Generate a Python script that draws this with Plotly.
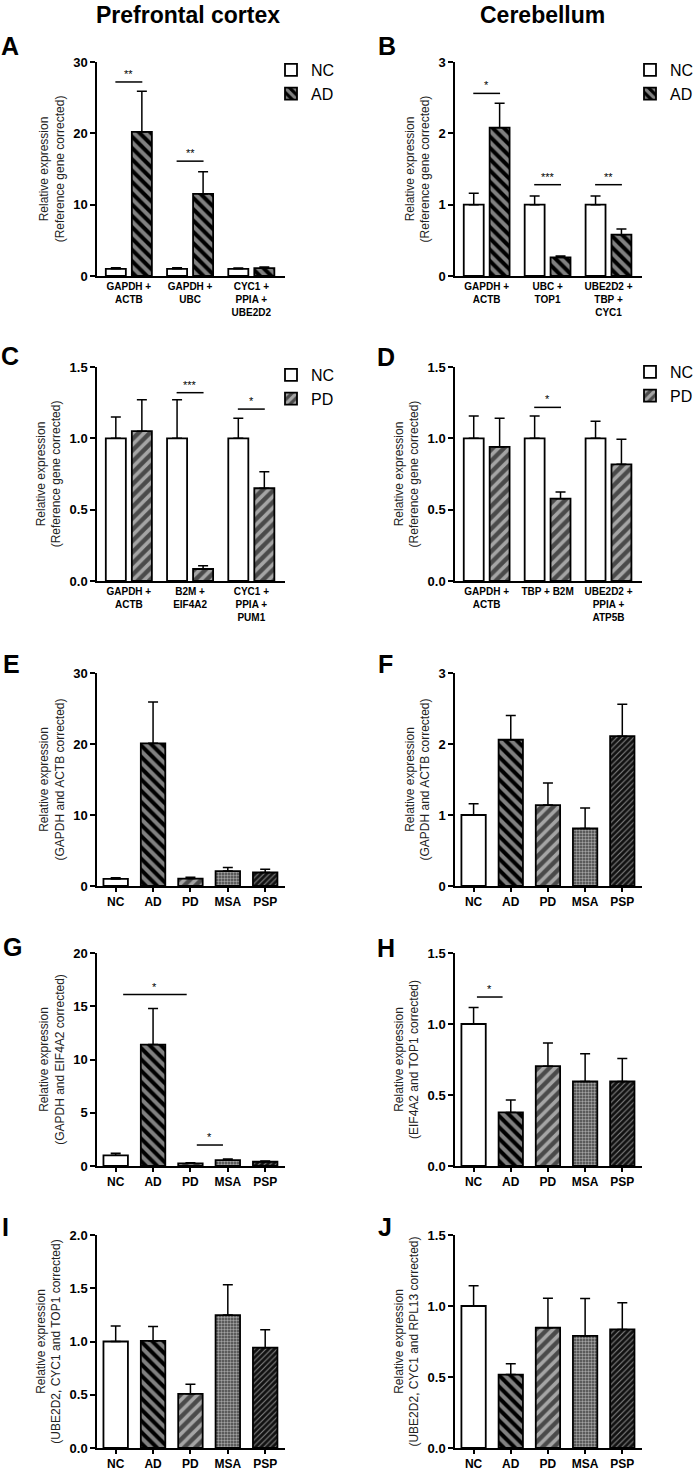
import plotly.graph_objects as go

W, H = 700, 1473
FONT = "Arial, Liberation Sans, sans-serif"

# ---------------- data ----------------
# A - prefrontal cortex, NC vs AD
groups_A = ["GAPDH +<br>ACTB", "GAPDH +<br>UBC", "CYC1 +<br>PPIA +<br>UBE2D2"]
nc_A = [1.0, 1.0, 1.0]
nc_A_err = [0.15, 0.15, 0.12]
ad_A = [20.2, 11.5, 1.1]
ad_A_err = [5.7, 3.1, 0.15]

# B - cerebellum, NC vs AD
groups_B = ["GAPDH +<br>ACTB", "UBC +<br>TOP1", "UBE2D2 +<br>TBP +<br>CYC1"]
nc_B = [1.0, 1.0, 1.0]
nc_B_err = [0.16, 0.12, 0.12]
ad_B = [2.08, 0.26, 0.58]
ad_B_err = [0.34, 0.02, 0.08]

# C - prefrontal cortex, NC vs PD
groups_C = ["GAPDH +<br>ACTB", "B2M +<br>EIF4A2", "CYC1 +<br>PPIA +<br>PUM1"]
nc_C = [1.0, 1.0, 1.0]
nc_C_err = [0.15, 0.27, 0.14]
pd_C = [1.05, 0.084, 0.65]
pd_C_err = [0.22, 0.023, 0.115]

# D - cerebellum, NC vs PD
groups_D = ["GAPDH +<br>ACTB", "TBP + B2M", "UBE2D2 +<br>PPIA +<br>ATP5B"]
nc_D = [1.0, 1.0, 1.0]
nc_D_err = [0.157, 0.157, 0.12]
pd_D = [0.94, 0.577, 0.818]
pd_D_err = [0.2, 0.047, 0.175]

# E-J - all five groups
conditions = ["NC", "AD", "PD", "MSA", "PSP"]
E_vals = [1.0, 20.1, 1.05, 2.1, 1.9]
E_err = [0.15, 5.8, 0.2, 0.5, 0.45]
F_vals = [1.0, 2.06, 1.14, 0.81, 2.11]
F_err = [0.157, 0.34, 0.31, 0.29, 0.45]
G_vals = [1.0, 11.4, 0.25, 0.56, 0.4]
G_err = [0.2, 3.4, 0.06, 0.1, 0.07]
H_vals = [1.0, 0.377, 0.703, 0.595, 0.595]
H_err = [0.116, 0.087, 0.164, 0.195, 0.162]
I_vals = [1.0, 1.005, 0.509, 1.248, 0.942]
I_err = [0.145, 0.137, 0.09, 0.284, 0.169]
J_vals = [1.0, 0.517, 0.847, 0.789, 0.835]
J_err = [0.142, 0.077, 0.208, 0.264, 0.188]

# significance bars: (from, to, height, stars)
sig_A = [(-0.22, 0.22, 27.2, "**"), (0.78, 1.22, 16.1, "**")]
sig_B = [(-0.22, 0.22, 2.56, "*"), (0.78, 1.22, 1.28, "***"), (1.78, 2.22, 1.28, "**")]
sig_C = [(0.78, 1.22, 1.32, "***"), (1.78, 2.22, 1.205, "*")]
sig_D = [(0.78, 1.22, 1.217, "*")]
sig_G = [(0.2, 1.9, 16.1, "*"), (2.17, 2.87, 1.97, "*")]
sig_H = [(0.09, 0.78, 1.19, "*")]

# ---------------- styles ----------------
# bar fill + overlaid hatch (fillmode overlay)
STYLE = {
    "NC": dict(color="white", shape="", fg="white", size=8, sol=0.3),
    "AD": dict(color="black", shape="\\", fg="white", size=8, sol=0.5),
    "PD": dict(color="#4a4a4a", shape="/", fg="white", size=8, sol=0.45),
    "MSA": dict(color="#444444", shape=".", fg="white", size=3, sol=0.5),
    "PSP": dict(color="#111111", shape="/", fg="#8a8a8a", size=4, sol=0.25),
}


def marker_for(names):
    st = [STYLE[n] for n in names]
    return dict(
        color=[s["color"] for s in st],
        line=dict(color="black", width=1.8),
        pattern=dict(
            shape=[s["shape"] for s in st],
            fgcolor=[s["fg"] for s in st],
            size=[s["size"] for s in st],
            solidity=[s["sol"] for s in st],
            fillmode="overlay",
        ),
    )


def err(arr):
    return dict(type="data", array=arr, arrayminus=[0] * len(arr), symmetric=False,
                color="black", thickness=1.5, width=5)


# ---------------- panel layout (pixels) ----------------
cols_px = [(97, 285), (455, 642)]
rows_px = [(62, 276), (367, 581), (673, 886), (953, 1166), (1235, 1448)]

ytitle_ref = "Relative expression<br>(Reference gene corrected)"
panels = [
    dict(letter="A", grouped=True, cats=groups_A, a=("NC", nc_A, nc_A_err), b=("AD", ad_A, ad_A_err),
         ymax=30, dtick=10, fmt="d", title=ytitle_ref, sig=sig_A),
    dict(letter="B", grouped=True, cats=groups_B, a=("NC", nc_B, nc_B_err), b=("AD", ad_B, ad_B_err),
         ymax=3, dtick=1, fmt="d", title=ytitle_ref, sig=sig_B),
    dict(letter="C", grouped=True, cats=groups_C, a=("NC", nc_C, nc_C_err), b=("PD", pd_C, pd_C_err),
         ymax=1.5, dtick=0.5, fmt=".1f", title=ytitle_ref, sig=sig_C),
    dict(letter="D", grouped=True, cats=groups_D, a=("NC", nc_D, nc_D_err), b=("PD", pd_D, pd_D_err),
         ymax=1.5, dtick=0.5, fmt=".1f", title=ytitle_ref, sig=sig_D),
    dict(letter="E", grouped=False, vals=E_vals, err=E_err, ymax=30, dtick=10, fmt="d",
         title="Relative expression<br>(GAPDH and ACTB corrected)", sig=[]),
    dict(letter="F", grouped=False, vals=F_vals, err=F_err, ymax=3, dtick=1, fmt="d",
         title="Relative expression<br>(GAPDH and ACTB corrected)", sig=[]),
    dict(letter="G", grouped=False, vals=G_vals, err=G_err, ymax=20, dtick=5, fmt="d",
         title="Relative expression<br>(GAPDH and EIF4A2 corrected)", sig=sig_G),
    dict(letter="H", grouped=False, vals=H_vals, err=H_err, ymax=1.5, dtick=0.5, fmt=".1f",
         title="Relative expression<br>(EIF4A2 and TOP1 corrected)", sig=sig_H),
    dict(letter="I", grouped=False, vals=I_vals, err=I_err, ymax=2.0, dtick=0.5, fmt=".1f",
         title="Relative expression<br>(UBE2D2, CYC1 and TOP1 corrected)", sig=[]),
    dict(letter="J", grouped=False, vals=J_vals, err=J_err, ymax=1.5, dtick=0.5, fmt=".1f",
         title="Relative expression<br>(UBE2D2, CYC1 and RPL13 corrected)", sig=[]),
]

# letter positions (pixel centres)
letter_px = {"A": (10, 46), "B": (387, 46), "C": (10, 356), "D": (386, 357),
             "E": (11, 664), "F": (385, 664), "G": (12, 947), "H": (386, 948),
             "I": (5, 1227), "J": (385, 1227)}
legend_px = {"A": (271, 53), "B": (630, 53), "C": (271, 358), "D": (630, 355)}

fig = go.Figure()
layout = dict(width=W, height=H, margin=dict(l=0, r=0, t=0, b=0, autoexpand=False),
              paper_bgcolor="white", plot_bgcolor="white",
              barmode="group", bargap=0.15, bargroupgap=0.23,
              font=dict(family=FONT, color="black"))
shapes, annotations = [], []

for k, p in enumerate(panels):
    n = k + 1
    xa = "x" if n == 1 else f"x{n}"
    ya = "y" if n == 1 else f"y{n}"
    col, row = k % 2, k // 2
    x0, x1 = cols_px[col]
    y0, y1 = rows_px[row]

    if p["grouped"]:
        leg = "legend" if n == 1 else f"legend{n}"
        for name, vals, e in (p["a"], p["b"]):
            fig.add_trace(go.Bar(x=p["cats"], y=vals, name=name, error_y=err(e),
                                 marker=marker_for([name] * len(vals)),
                                 xaxis=xa, yaxis=ya, legend=leg, showlegend=True))
        lx, ly = legend_px[p["letter"]]
        layout[leg] = dict(x=lx / W, y=1 - ly / H, xanchor="left", yanchor="top",
                           bgcolor="rgba(0,0,0,0)", font=dict(size=16, family=FONT),
                           tracegroupgap=0, traceorder="normal")
        xr = [-0.52, 2.55]
        xfont = dict(size=10, family=FONT, weight="bold")
        xticks = ""
    else:
        fig.add_trace(go.Bar(x=conditions, y=p["vals"], error_y=err(p["err"]),
                             marker=marker_for(conditions), xaxis=xa, yaxis=ya,
                             showlegend=False))
        xr = [-0.5, 4.53]
        xfont = dict(size=12, family=FONT, weight="bold")
        xticks = "outside"

    layout["xaxis" if n == 1 else f"xaxis{n}"] = dict(
        domain=[x0 / W, x1 / W], anchor=ya, type="category", range=xr,
        showline=True, linecolor="black", linewidth=1.5, showgrid=False,
        ticks=xticks, ticklen=4, tickwidth=1.5, tickcolor="black",
        tickangle=0, tickfont=xfont, fixedrange=True)
    layout["yaxis" if n == 1 else f"yaxis{n}"] = dict(
        domain=[1 - y1 / H, 1 - y0 / H], anchor=xa, range=[0, p["ymax"]],
        dtick=p["dtick"], tick0=0, tickformat=p["fmt"],
        showline=True, linecolor="black", linewidth=1.5, showgrid=False, zeroline=False,
        ticks="outside", ticklen=5, tickwidth=1.5, tickcolor="black",
        tickfont=dict(size=13, family=FONT, weight="bold"),
        title=dict(text=p["title"], font=dict(size=12, family=FONT, color="#222"), standoff=6),
        fixedrange=True)

    # significance bars
    for sx0, sx1, sy, stars in p["sig"]:
        shapes.append(dict(type="line", xref=xa, yref=ya, x0=sx0, x1=sx1, y0=sy, y1=sy,
                           line=dict(color="black", width=1.5)))
        annotations.append(dict(xref=xa, yref=ya, x=(sx0 + sx1) / 2, y=sy, text=stars,
                                showarrow=False, yanchor="bottom", yshift=0,
                                font=dict(size=11, family=FONT, color="black")))

    # panel letter
    px, py = letter_px[p["letter"]]
    annotations.append(dict(xref="paper", yref="paper", x=px / W, y=1 - py / H,
                            text=f"<b>{p['letter']}</b>", showarrow=False,
                            xanchor="center", yanchor="middle",
                            font=dict(size=25, family=FONT, color="black")))

# column titles
for text, cx in (("Prefrontal cortex", 188), ("Cerebellum", 542)):
    annotations.append(dict(xref="paper", yref="paper", x=cx / W, y=1 - 15 / H,
                            text=f"<b>{text}</b>", showarrow=False,
                            xanchor="center", yanchor="middle",
                            font=dict(size=23, family=FONT, color="black")))

layout["shapes"] = shapes
layout["annotations"] = annotations
fig.update_layout(**layout)

# page body has a default 8px margin; drop it so the figure sits at the window corner
fig.write_html("out.html", config={"displayModeBar": False},
               post_script="document.body.style.margin='0';")
